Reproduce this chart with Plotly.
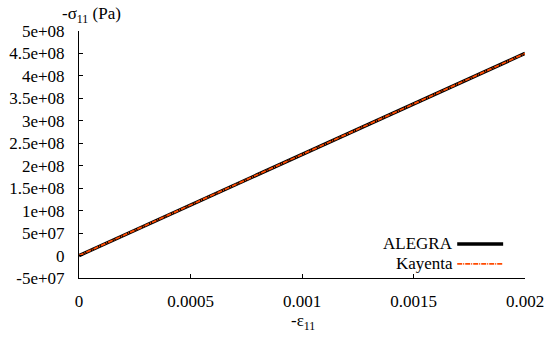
import plotly.graph_objects as go

strain = [0.0, 0.0005, 0.001, 0.0015, 0.002]
stress_alegra = [0.0, 1.125e8, 2.25e8, 3.375e8, 4.5e8]
stress_kayenta = [0.0, 1.125e8, 2.25e8, 3.375e8, 4.5e8]

y_ticks = [-5e7, 0, 5e7, 1e8, 1.5e8, 2e8, 2.5e8, 3e8, 3.5e8, 4e8, 4.5e8, 5e8]
y_labels = ["-5e+07", "0", "5e+07", "1e+08", "1.5e+08", "2e+08", "2.5e+08",
            "3e+08", "3.5e+08", "4e+08", "4.5e+08", "5e+08"]
x_ticks = [0, 0.0005, 0.001, 0.0015, 0.002]
x_labels = ["0", "0.0005", "0.001", "0.0015", "0.002"]

font = "Liberation Serif"
fs = 17
orange = "#ff4a00"
kdash = "5px,1px,1px,1px"

fig = go.Figure()
fig.add_trace(go.Scatter(x=strain, y=stress_alegra, mode="lines", name="ALEGRA",
                         line=dict(color="black", width=3.5)))
fig.add_trace(go.Scatter(x=strain, y=stress_kayenta, mode="lines", name="Kayenta",
                         line=dict(color=orange, width=1.8, dash=kdash)))

fig.update_layout(
    width=547, height=337,
    margin=dict(l=79, r=22, t=31, b=59),
    paper_bgcolor="white", plot_bgcolor="white",
    showlegend=False,
    font=dict(family=font, size=fs, color="black"),
    xaxis=dict(range=[0, 0.002], tickvals=x_ticks, ticktext=x_labels,
               showline=True, linecolor="black", linewidth=1, mirror=False,
               ticks="inside", ticklen=4, tickcolor="black", automargin=False,
               showgrid=False, zeroline=False, ticklabelstandoff=8,
               tickfont=dict(family=font, size=fs)),
    yaxis=dict(range=[-5e7, 5e8], tickvals=y_ticks, ticktext=y_labels,
               showline=True, linecolor="black", linewidth=1, mirror=False,
               ticks="inside", ticklen=4, tickcolor="black", automargin=False,
               showgrid=False, zeroline=False, ticklabelstandoff=10,
               tickfont=dict(family=font, size=fs)),
)

# axis titles
fig.add_annotation(text="-σ<sub>11</sub> (Pa)", xref="paper", yref="paper",
                   x=-0.043, y=1.065, xanchor="left", yanchor="middle", showarrow=False,
                   font=dict(family=font, size=fs))
fig.add_annotation(text="-ε<sub>11</sub>", xref="paper", yref="paper",
                   x=0.502, y=-0.18, xanchor="center", yanchor="middle", showarrow=False,
                   font=dict(family=font, size=fs))

# legend (text left of sample)
legend_items = [("ALEGRA", "black", 3.5, "solid", 0.138),
                ("Kayenta", orange, 1.8, kdash, 0.057)]
for name, color, w, dash, yp in legend_items:
    fig.add_annotation(text=name, xref="paper", yref="paper", x=0.843, y=yp,
                       xanchor="right", yanchor="middle", showarrow=False,
                       font=dict(family=font, size=fs))
    fig.add_shape(type="line", xref="paper", yref="paper", x0=0.848, x1=0.951,
                  y0=yp, y1=yp, line=dict(color=color, width=w, dash=dash))

fig.write_html("out.html")
